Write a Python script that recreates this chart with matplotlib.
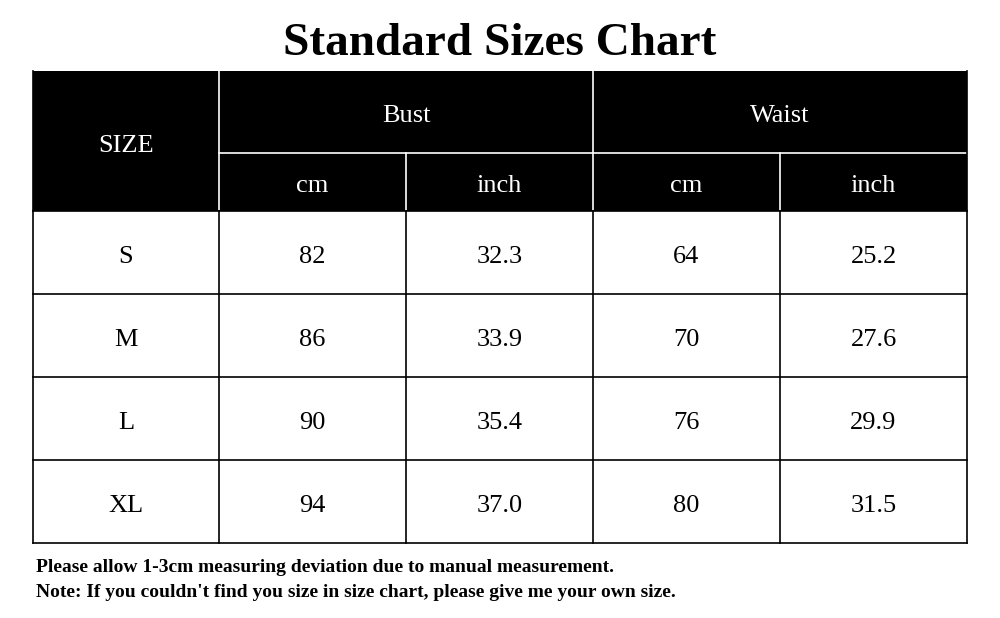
import matplotlib.pyplot as plt
from matplotlib.patches import Rectangle

# table data
sizes = ['S', 'M', 'L', 'XL']
bust_cm = ['82', '86', '90', '94']
bust_in = ['32.3', '33.9', '35.4', '37.0']
waist_cm = ['64', '70', '76', '80']
waist_in = ['25.2', '27.6', '29.9', '31.5']
groups = ['Bust', 'Waist']
units = ['cm', 'inch']
title = 'Standard Sizes Chart'
notes = ['Please allow 1-3cm measuring deviation due to manual measurement.',
         "Note: If you couldn't find you size in size chart, please give me your own size."]

# layout in pixels
col_x = [33, 219, 406, 593, 780, 967]
y_top, y_mid, y_head = 71, 153, 211
row_y = [211, 294, 377, 460, 543]
base_off = 10.5   # baseline below cell centre

plt.rcParams['font.family'] = ['Liberation Serif', 'DejaVu Serif']

fig = plt.figure(figsize=(10, 6.18), dpi=100)
ax = fig.add_axes([0, 0, 1, 1])
ax.set_xlim(0, 1000)
ax.set_ylim(618, 0)
ax.axis('off')

# header block
ax.add_patch(Rectangle((col_x[0], y_top), col_x[-1] - col_x[0], y_head - y_top,
                       facecolor='black', edgecolor='none'))
ax.plot([col_x[1], col_x[1]], [y_top, y_head], color='white', lw=1.2)
ax.plot([col_x[3], col_x[3]], [y_top, y_head], color='white', lw=1.2)
ax.plot([col_x[1], col_x[-1]], [y_mid, y_mid], color='white', lw=1.2)
for x in (col_x[2], col_x[4]):
    ax.plot([x, x], [y_mid, y_head], color='white', lw=1.2)

fs = 19
ax.text((col_x[0] + col_x[1]) / 2, (y_top + y_head) / 2 + base_off, 'SIZE',
        color='white', fontsize=fs, ha='center', va='baseline')
for i, g in enumerate(groups):
    ax.text((col_x[1 + 2 * i] + col_x[3 + 2 * i]) / 2, (y_top + y_mid) / 2 + base_off, g,
            color='white', fontsize=fs, ha='center', va='baseline')
    for j, u in enumerate(units):
        c = 1 + 2 * i + j
        ax.text((col_x[c] + col_x[c + 1]) / 2, (y_mid + y_head) / 2 + base_off, u,
                color='white', fontsize=fs, ha='center', va='baseline')

# body grid
for y in row_y:
    ax.plot([col_x[0], col_x[-1]], [y, y], color='black', lw=1.2)
for x in col_x:
    ax.plot([x, x], [row_y[0], row_y[-1]], color='black', lw=1.2)
ax.plot([col_x[0], col_x[0]], [y_top, y_head], color='black', lw=1.2)
ax.plot([col_x[-1], col_x[-1]], [y_top, y_head], color='black', lw=1.2)

columns = [sizes, bust_cm, bust_in, waist_cm, waist_in]
for c, vals in enumerate(columns):
    xc = (col_x[c] + col_x[c + 1]) / 2
    for r, v in enumerate(vals):
        yc = (row_y[r] + row_y[r + 1]) / 2
        ax.text(xc, yc + base_off, v, fontsize=fs, ha='center', va='baseline')

ax.text(500, 55, title, fontsize=34, fontweight='bold', ha='center', va='baseline')
ax.text(36, 572, notes[0], fontsize=14, fontweight='bold', ha='left', va='baseline')
ax.text(36, 597, notes[1], fontsize=14, fontweight='bold', ha='left', va='baseline')

fig.savefig('out.png', dpi=100)
